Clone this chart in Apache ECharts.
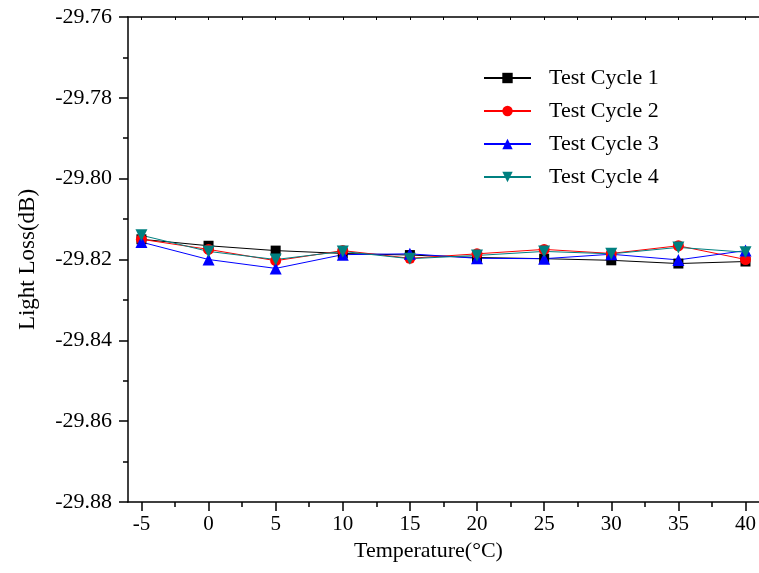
<!DOCTYPE html>
<html>
<head>
<meta charset="utf-8">
<script src="https://cdn.jsdelivr.net/npm/echarts@6/dist/echarts.min.js"></script>
<style>
  html, body { margin: 0; padding: 0; background: #fff; }
  #chart { width: 759px; height: 573px; }
</style>
</head>
<body>
<div id="chart"></div>
<script>
// data
const temps = [-5, 0, 5, 10, 15, 20, 25, 30, 35, 40];
const cycle1 = [-29.8150, -29.8166, -29.8178, -29.8185, -29.8189, -29.8195, -29.8198, -29.8202, -29.8210, -29.8205];
const cycle2 = [-29.8150, -29.8175, -29.8203, -29.8178, -29.8197, -29.8186, -29.8175, -29.8185, -29.8166, -29.8200];
const cycle3 = [-29.8157, -29.8200, -29.8222, -29.8188, -29.8186, -29.8197, -29.8198, -29.8187, -29.8201, -29.8178];
const cycle4 = [-29.8140, -29.8180, -29.8200, -29.8180, -29.8198, -29.8190, -29.8180, -29.8186, -29.8170, -29.8182];

const xMajor = [-5, 0, 5, 10, 15, 20, 25, 30, 35, 40];
const xMinor = [-2.5, 2.5, 7.5, 12.5, 17.5, 22.5, 27.5, 32.5, 37.5];
const xAll = [-5, -2.5, 0, 2.5, 5, 7.5, 10, 12.5, 15, 17.5, 20, 22.5, 25, 27.5, 30, 32.5, 35, 37.5, 40];

const FONT = 'Liberation Serif';
const pairs = arr => arr.map((v, i) => [temps[i], v]);

const chart = echarts.init(document.getElementById('chart'));

function lineSeries(name, data, color, symbol, size, rotate) {
  return {
    name: name,
    type: 'line',
    xAxisIndex: 0,
    data: pairs(data),
    symbol: symbol,
    symbolSize: size,
    symbolRotate: rotate || 0,
    showAllSymbol: true,
    lineStyle: { color: color, width: 1 },
    itemStyle: { color: color },
    emphasis: { disabled: true },
    animation: false
  };
}

const option = {
  backgroundColor: '#fff',
  animation: false,
  grid: { left: 128, top: 17, width: 634, height: 485, containLabel: false },
  legend: {
    orient: 'vertical',
    left: 483,
    top: 67,
    padding: 0,
    itemWidth: 47,
    itemHeight: 13,
    itemGap: 11,
    textStyle: { fontFamily: FONT, fontSize: 22, color: '#000', padding: [0, 0, 0, 13] },
    data: ['Test Cycle 1', 'Test Cycle 2', 'Test Cycle 3', 'Test Cycle 4']
  },
  xAxis: [
    {
      type: 'value', position: 'bottom', min: -6, max: 41,
      name: 'Temperature(\u00b0C)', nameLocation: 'middle', nameGap: 36,
      nameTextStyle: { fontFamily: FONT, fontSize: 22, color: '#000', padding: [0, 30, 0, 0] },
      axisLine: { onZero: false, lineStyle: { color: '#000', width: 1.5 } },
      axisTick: { show: true, inside: false, length: 9, customValues: xMajor, lineStyle: { color: '#000', width: 1.5 } },
      axisLabel: { customValues: xMajor, fontFamily: FONT, fontSize: 21, color: '#000', margin: 12 },
      splitLine: { show: false }
    },
    {
      type: 'value', position: 'bottom', min: -6, max: 41,
      axisLine: { show: false, onZero: false },
      axisTick: { show: true, inside: false, length: 5, customValues: xMinor, lineStyle: { color: '#000', width: 1.5 } },
      axisLabel: { show: false },
      splitLine: { show: false }
    },
    {
      type: 'value', position: 'top', min: -6, max: 41,
      axisLine: { show: true, onZero: false, lineStyle: { color: '#000', width: 1.5 } },
      axisTick: { show: true, inside: true, length: 3, customValues: xAll, lineStyle: { color: '#000', width: 1 } },
      axisLabel: { show: false },
      splitLine: { show: false }
    }
  ],
  yAxis: {
    type: 'value', min: -29.88, max: -29.76, interval: 0.02,
    name: 'Light Loss(dB)', nameLocation: 'middle', nameGap: 89,
    nameTextStyle: { fontFamily: FONT, fontSize: 23, color: '#000' },
    axisLine: { show: true, onZero: false, lineStyle: { color: '#000', width: 1.5 } },
    axisTick: { show: true, inside: false, length: 9, lineStyle: { color: '#000', width: 1.5 } },
    minorTick: { show: true, splitNumber: 2, length: 5, lineStyle: { color: '#000', width: 1.5 } },
    axisLabel: { fontFamily: FONT, fontSize: 22, color: '#000', margin: 16, formatter: v => v.toFixed(2) },
    splitLine: { show: false }
  },
  series: [
    lineSeries('Test Cycle 1', cycle1, '#000000', 'rect', 10),
    lineSeries('Test Cycle 2', cycle2, '#ff0000', 'circle', 11),
    lineSeries('Test Cycle 3', cycle3, '#0000ff', 'triangle', 12),
    lineSeries('Test Cycle 4', cycle4, '#008080', 'triangle', 12, 180)
  ]
};

chart.setOption(option);
</script>
</body>
</html>
